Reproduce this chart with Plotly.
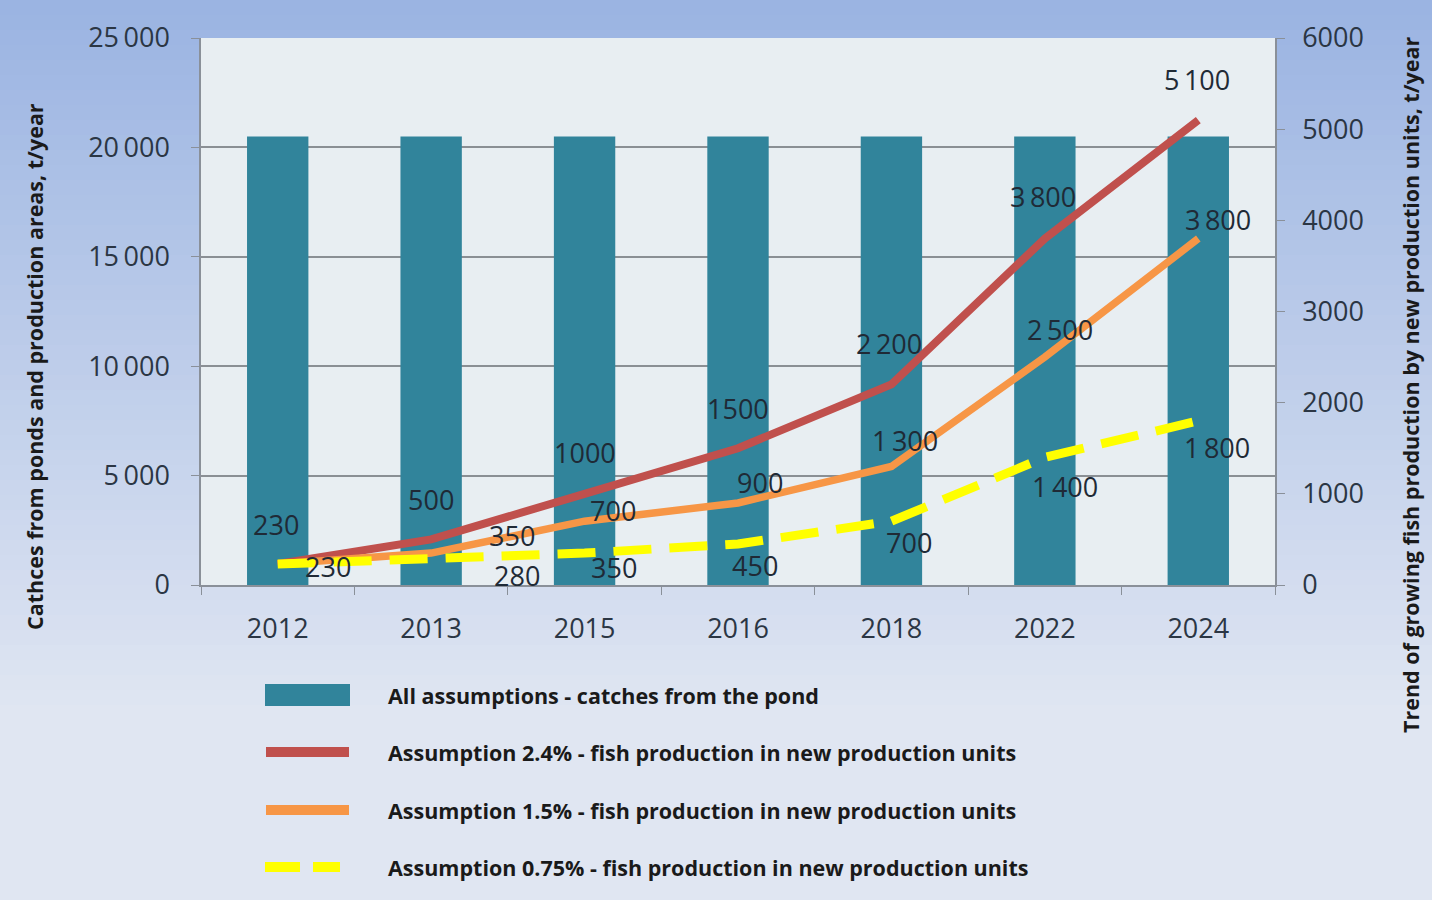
import plotly.graph_objects as go

# ---------------- data ----------------
years = ["2012", "2013", "2015", "2016", "2018", "2022", "2024"]
catches_pond = [20500, 20500, 20500, 20500, 20500, 20500, 20500]
assump_24 = [230, 500, 1000, 1500, 2200, 3800, 5100]
assump_15 = [230, 350, 700, 900, 1300, 2500, 3800]
assump_075 = [230, 280, 350, 450, 700, 1400, 1800]

left_ticks = [0, 5000, 10000, 15000, 20000, 25000]
left_ticktext = ["0", "5\u2009000", "10\u2009000", "15\u2009000", "20\u2009000", "25\u2009000"]
right_ticks = [0, 1000, 2000, 3000, 4000, 5000, 6000]

label_24 = ["230", "500", "1000", "1500", "2\u2009200", "3\u2009800", "5\u2009100"]
label_15 = ["230", "350", "700", "900", "1\u2009300", "2\u2009500", "3\u2009800"]
label_075 = ["", "280", "350", "450", "700", "1\u2009400", "1\u2009800"]

legend_names = [
    "All assumptions - catches from the pond",
    "Assumption 2.4% - fish production in new production units",
    "Assumption 1.5% - fish production in new production units",
    "Assumption 0.75% - fish production in new production units",
]

# ---------------- styles ----------------
C_BAR = "#31849b"
C_RED = "#c0504d"
C_ORA = "#f79646"
C_YEL = "#ffff00"
TXT = "#1f2a36"
FONT = "Open Sans"

W, H = 1432, 900
L, R, T, B = 201, 157, 38, 315
PW, PH = W - L - R, H - T - B

def px2paper_x(px):
    return (px - L) / PW

def px2paper_y(py):
    return (H - B - py) / PH

# label offsets (pixels)
off_24 = [(-2, 40), (0, 40), (0, 41), (0, 40), (-2, 41), (-2, 42), (-1, 41)]
off_15 = [(50, -2), (81, 18), (28, 11), (22, 20), (14, 26), (15, 28), (20, 19)]
off_075 = [(0, 0), (86, -16), (29, -14), (17, -22), (18, -21), (20, -29), (19, -27)]

fig = go.Figure()

fig.add_trace(go.Bar(
    x=years, y=catches_pond, name=legend_names[0],
    marker=dict(color=C_BAR, line=dict(width=0)),
    width=0.4, yaxis="y", showlegend=False,
))
fig.add_trace(go.Scatter(
    x=years, y=assump_24, name=legend_names[1], mode="lines",
    line=dict(color=C_RED, width=8), yaxis="y2", showlegend=False,
))
fig.add_trace(go.Scatter(
    x=years, y=assump_15, name=legend_names[2], mode="lines",
    line=dict(color=C_ORA, width=7.5), yaxis="y2", showlegend=False,
))
fig.add_trace(go.Scatter(
    x=years, y=assump_075, name=legend_names[3], mode="lines",
    line=dict(color=C_YEL, width=9, dash="38px,18px"), yaxis="y2", showlegend=False,
))

shapes = []
# gradient background
n = 60
top = (155, 180, 226)
bot = (224, 230, 242)
for i in range(n):
    t = i / (n - 1)
    c = tuple(int(round(top[k] + (bot[k] - top[k]) * min(1.0, t * 1.25))) for k in range(3))
    y0p = H * i / n
    y1p = H * (i + 1) / n + 1
    shapes.append(dict(
        type="rect", xref="paper", yref="paper", layer="below",
        x0=px2paper_x(0), x1=px2paper_x(W), y0=px2paper_y(y1p), y1=px2paper_y(y0p),
        fillcolor="rgb(%d,%d,%d)" % c, line=dict(width=0),
    ))
# plot area
shapes.append(dict(
    type="rect", xref="paper", yref="paper", layer="below",
    x0=0, x1=1, y0=0, y1=1, fillcolor="#e8eef2", line=dict(width=0),
))

# custom legend
leg_rows = [695, 752, 810, 867]
shapes.append(dict(type="rect", xref="paper", yref="paper",
                   x0=px2paper_x(265), x1=px2paper_x(350),
                   y0=px2paper_y(706), y1=px2paper_y(684),
                   fillcolor=C_BAR, line=dict(width=0)))
for row, col in zip(leg_rows[1:3], [C_RED, C_ORA]):
    shapes.append(dict(type="line", xref="paper", yref="paper",
                       x0=px2paper_x(266), x1=px2paper_x(349),
                       y0=px2paper_y(row), y1=px2paper_y(row),
                       line=dict(color=col, width=10)))
for xa, xb in [(265, 300), (313, 340)]:
    shapes.append(dict(type="line", xref="paper", yref="paper",
                       x0=px2paper_x(xa), x1=px2paper_x(xb),
                       y0=px2paper_y(leg_rows[3]), y1=px2paper_y(leg_rows[3]),
                       line=dict(color=C_YEL, width=10)))

annotations = []
for row, name in zip(leg_rows, legend_names):
    annotations.append(dict(
        xref="paper", yref="paper", x=px2paper_x(386), y=px2paper_y(row),
        xanchor="left", yanchor="middle", text="<b>%s</b>" % name, showarrow=False,
        font=dict(family=FONT, size=21.5, color="#1a1a1a"),
    ))

def add_labels(vals, labels, offs):
    for i, (v, lab, (dx, dy)) in enumerate(zip(vals, labels, offs)):
        if not lab:
            continue
        annotations.append(dict(
            x=i, y=v, xref="x", yref="y2", text=lab, showarrow=False,
            xanchor="center", yanchor="middle", xshift=dx, yshift=dy,
            font=dict(family=FONT, size=27, color=TXT),
        ))

add_labels(assump_24, label_24, off_24)
add_labels(assump_15, label_15, off_15)
add_labels(assump_075, label_075, off_075)

# axis titles
annotations.append(dict(
    xref="paper", yref="paper", x=px2paper_x(35), y=px2paper_y(367),
    text="<b>Cathces from ponds and production areas, t/year</b>", textangle=-90,
    showarrow=False, xanchor="center", yanchor="middle",
    font=dict(family=FONT, size=21.5, color="#1a1a1a"),
))
annotations.append(dict(
    xref="paper", yref="paper", x=px2paper_x(1410), y=px2paper_y(385),
    text="<b>Trend of growing fish production by new production units, t/year</b>", textangle=-90,
    showarrow=False, xanchor="center", yanchor="middle",
    font=dict(family=FONT, size=21.5, color="#1a1a1a"),
))

fig.update_layout(
    width=W, height=H,
    margin=dict(l=L, r=R, t=T, b=B, pad=0),
    paper_bgcolor="#dfe6f2",
    plot_bgcolor="rgba(0,0,0,0)",
    font=dict(family=FONT, color=TXT),
    shapes=shapes,
    annotations=annotations,
    xaxis=dict(
        type="category", categoryorder="array", categoryarray=years,
        range=[-0.5, len(years) - 0.5], autorange=False,
        showgrid=False, showline=True, linecolor="#8a9099", linewidth=1.5,
        ticks="outside", tickson="boundaries", ticklen=8, tickcolor="#8a9099",
        tickfont=dict(family=FONT, size=27, color="#2b3644"),
        ticklabelstandoff=19, zeroline=False, tickangle=0,
    ),
    yaxis=dict(
        range=[0, 25000], autorange=False, tickvals=left_ticks, ticktext=left_ticktext,
        showgrid=True, gridcolor="#8a8f94", gridwidth=1.5,
        showline=True, linecolor="#8a9099", linewidth=1.5,
        ticks="outside", ticklen=8, tickcolor="#8a9099",
        tickfont=dict(family=FONT, size=27, color="#2b3644"),
        ticklabelstandoff=16, zeroline=False,
    ),
    yaxis2=dict(
        range=[0, 6000], autorange=False, tickvals=right_ticks, overlaying="y", side="right",
        showgrid=False, showline=True, linecolor="#8a9099", linewidth=1.5,
        ticks="outside", ticklen=8, tickcolor="#8a9099",
        tickfont=dict(family=FONT, size=27, color="#2b3644"),
        ticklabelstandoff=12, zeroline=False,
    ),
    showlegend=False,
)

fig.write_html("out.html")
